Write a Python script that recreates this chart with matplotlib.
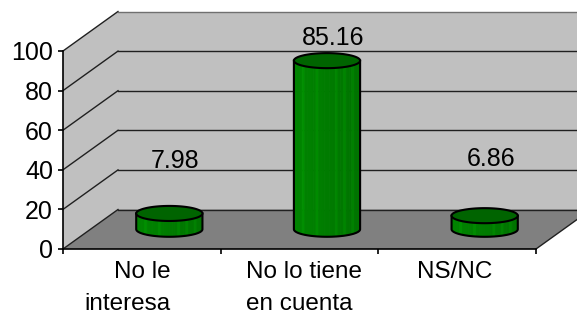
import numpy as np
import matplotlib
matplotlib.use("Agg")
import matplotlib.pyplot as plt
import matplotlib.transforms as mtransforms
from matplotlib.patches import Polygon

plt.rcParams['font.family'] = ['Liberation Sans', 'DejaVu Sans']

# ---- data ----
categories = ["No le\ninteresa", "No lo tiene\nen cuenta", "NS/NC"]
values = [7.98, 85.16, 6.86]
value_labels = ["7.98", "85.16", "6.86"]
yticks = [0, 20, 40, 60, 80, 100]

# ---- style ----
W, H = 577, 316
DEPTH = (55.0, 39.5)          # pixel offset of back plane
wall_c = "#C0C0C0"
floor_c = "#808080"
top_c = "#006400"
label_dy = [52, 23, 57]       # px above bar top
cat_ha = ["right", "left", "center"]
cat_dx = [29, -53, -2]        # px offset of category label anchor
fs = 18

fig = plt.figure(figsize=(W / 100, H / 100), dpi=100)
ax = fig.add_axes([63 / W, (H - 249) / H, (536 - 63) / W, (249 - 51) / H])
ax.set_xlim(0, 3)
ax.set_ylim(0, 100)
ax.patch.set_visible(False)


def tr(d):
    return ax.transData + mtransforms.Affine2D().translate(DEPTH[0] * d, DEPTH[1] * d)


def disp(pts, d):
    return tr(d).transform(np.array(pts, float))


def poly_mixed(pts_d, **kw):
    disp_pts = np.vstack([disp([p], d) for p, d in pts_d])
    patch = Polygon(disp_pts, closed=True, clip_on=False, **kw)
    ax.add_artist(patch)
    patch.set_transform(mtransforms.IdentityTransform())
    return patch


ncat = len(categories)

# walls & floor
poly_mixed([((0, 0), 0), ((0, 100), 0), ((0, 100), 1), ((0, 0), 1)],
           facecolor=wall_c, edgecolor="none", zorder=1)
poly_mixed([((0, 0), 1), ((0, 100), 1), ((ncat, 100), 1), ((ncat, 0), 1)],
           facecolor=wall_c, edgecolor="none", zorder=1)
poly_mixed([((0, 0), 0), ((ncat, 0), 0), ((ncat, 0), 1), ((0, 0), 1)],
           facecolor=floor_c, edgecolor="none", zorder=1)

# gridlines on walls
for yv in yticks:
    pts = np.vstack([disp([(0, yv)], 0), disp([(0, yv)], 1), disp([(ncat, yv)], 1)])
    col = "#707070" if yv == 100 else "#202020"
    ax.plot(pts[:2, 0], pts[:2, 1], color="#202020", lw=1, transform=None, clip_on=False, zorder=2)
    ax.plot(pts[1:, 0], pts[1:, 1], color=col, lw=1, transform=None, clip_on=False, zorder=2)
pts = np.vstack([disp([(ncat, 0)], 0), disp([(ncat, 0)], 1)])
ax.plot(pts[:, 0], pts[:, 1], color="#202020", lw=1, transform=None, clip_on=False, zorder=2)

# cylinders at mid depth
hw = 0.21        # half width in category units
eh = 3.8         # ellipse semi-height in value units
t = np.linspace(0, np.pi, 60)
for i, v in enumerate(values):
    cx = i + 0.5
    trm = tr(0.5)
    n = 24
    edges = np.linspace(cx - hw, cx + hw, n + 1)
    for k in range(n):
        xs = np.linspace(edges[k], edges[k + 1], 4)
        yb = -eh * np.sqrt(np.clip(1 - ((xs - cx) / hw) ** 2, 0, 1))
        frac = (k + 0.5) / n
        g = 0.52 - 0.07 * frac
        if k in (3, 8, 15, 18, 21):
            g += 0.05
        col = (0, g, 0)
        verts = np.vstack([np.column_stack([xs, yb]), np.column_stack([xs[::-1], np.full(4, v)])])
        ax.add_patch(Polygon(verts, closed=True, facecolor=col, edgecolor=col, lw=0.6,
                             transform=trm, clip_on=False, zorder=3))
    xb = cx - hw * np.cos(t)
    yb = -eh * np.sin(t)
    outline = np.vstack([[cx - hw, v], np.column_stack([xb, yb]), [cx + hw, v]])
    ax.plot(outline[:, 0], outline[:, 1], color="black", lw=1.5, transform=trm,
            clip_on=False, zorder=4)
    tt = np.linspace(0, 2 * np.pi, 120)
    ell = np.column_stack([cx + hw * np.cos(tt), v + eh * np.sin(tt)])
    ax.add_patch(Polygon(ell, closed=True, facecolor=top_c, edgecolor="black", lw=1.5,
                         transform=trm, clip_on=False, zorder=5))
    ax.annotate(value_labels[i], xy=(cx, v), xycoords=trm,
                xytext=(6 * 0.72, label_dy[i] * 0.72), textcoords="offset points",
                ha="center", va="center", fontsize=fs, zorder=6, annotation_clip=False)

# axes: spines and ticks
for s in ["top", "right"]:
    ax.spines[s].set_visible(False)
for s in ["left", "bottom"]:
    ax.spines[s].set_linewidth(1.2)
    ax.spines[s].set_zorder(7)
ax.set_yticks(yticks)
ax.set_yticklabels([str(y) for y in yticks], fontsize=fs)
ax.tick_params(axis="y", length=5 * 0.72, width=1.2, pad=3.6)
ax.set_xticks(np.arange(ncat + 1))
ax.set_xticklabels([])
ax.tick_params(axis="x", length=5 * 0.72, width=1.2)

for i, c in enumerate(categories):
    off = mtransforms.ScaledTranslation(cat_dx[i] / 100, -12 / 100, fig.dpi_scale_trans)
    ax.text(i + 0.5, 0, c, transform=ax.transData + off, ha=cat_ha[i], ma=cat_ha[i],
            va="top", fontsize=17.5, linespacing=1.6, clip_on=False)

fig.savefig("out.png", dpi=100, facecolor="white")
